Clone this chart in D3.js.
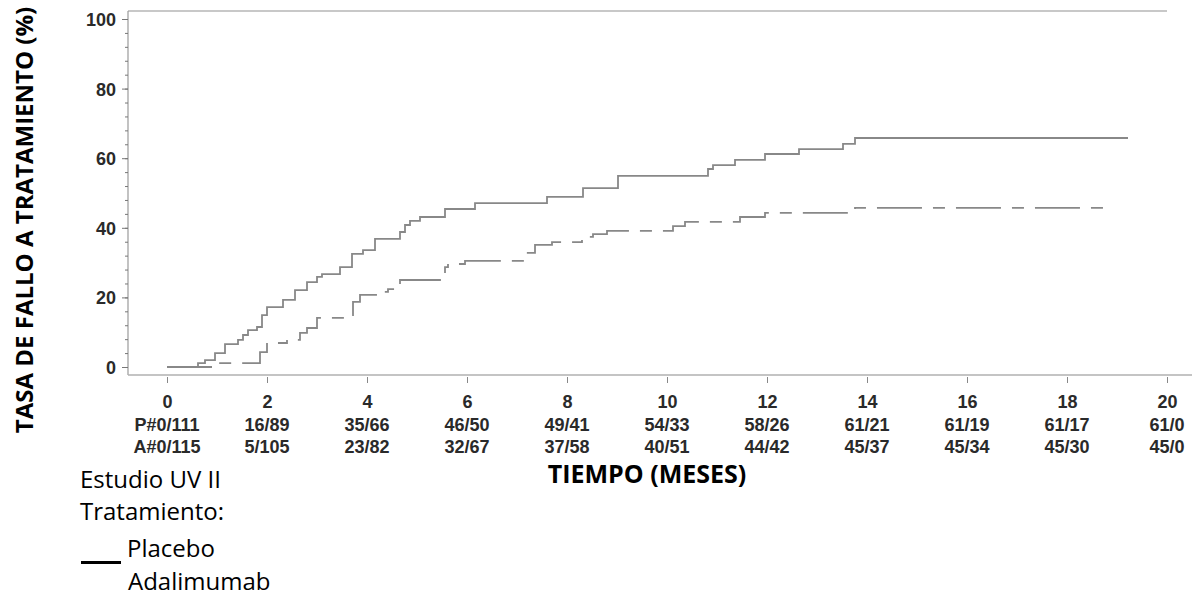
<!DOCTYPE html>
<html>
<head>
<meta charset="utf-8">
<title>tasa de fallo</title>
<script src="https://cdnjs.cloudflare.com/ajax/libs/d3/7.8.5/d3.min.js"></script>
<style>
  body { margin: 0; background: #fff; }
  .tick text { font-family: "Liberation Sans", Arial, sans-serif; font-weight: bold; font-size: 18px; fill: #2a2a2a; }
  .risk { font-family: "Liberation Sans", Arial, sans-serif; font-weight: bold; font-size: 18px; fill: #2a2a2a; }
  .lbl { font-family: "Open Sans", sans-serif; fill: #000; }
</style>
</head>
<body>
<div id="container"></div>
<script>
// months / cumulative failure (%)
const placeboT = [0, 0.62, 0.76, 0.96, 1.16, 1.42, 1.52, 1.62, 1.8, 1.9, 2.0, 2.32, 2.56, 2.8, 3.0, 3.1, 3.46, 3.7, 3.92, 4.16, 4.66, 4.76, 4.86, 5.06, 5.56, 6.16, 7.6, 8.32, 9.02, 10.82, 10.92, 11.36, 11.96, 12.64, 13.52, 13.76, 19.22];
const placeboV = [0, 1.1, 2, 4, 6.6, 7.8, 9.2, 10.6, 11.5, 14.9, 17.2, 19.3, 22.1, 24.4, 25.9, 26.7, 28.7, 32.5, 33.6, 36.8, 38.8, 40.8, 42, 43.1, 45.4, 47.1, 48.9, 51.4, 54.9, 56.9, 58, 59.5, 61.2, 62.6, 64.1, 65.8, 65.8];
const adaT = [0, 0.96, 1.86, 2.0, 2.4, 2.66, 2.8, 3.0, 3.52, 3.72, 3.86, 4.2, 4.42, 4.66, 5.46, 5.56, 5.62, 5.96, 7.16, 7.36, 7.7, 8.3, 8.52, 8.8, 10.12, 10.36, 11.46, 11.96, 13.76, 18.88];
const adaV = [0, 1.1, 4.3, 6.9, 7.8, 9.8, 11.2, 14.1, 14.9, 18.7, 20.7, 21.6, 22.4, 25, 25.9, 28.7, 29.6, 30.5, 32.8, 35.1, 35.9, 37.4, 38.2, 39.1, 40.5, 41.7, 43.1, 44.3, 45.7, 45.7];

const xTicks = [0, 2, 4, 6, 8, 10, 12, 14, 16, 18, 20];
const yTicks = [0, 20, 40, 60, 80, 100];
const placeboRisk = ["P#0/111", "16/89", "35/66", "46/50", "49/41", "54/33", "58/26", "61/21", "61/19", "61/17", "61/0"];
const adaRisk = ["A#0/115", "5/105", "23/82", "32/67", "37/58", "40/51", "44/42", "45/37", "45/34", "45/30", "45/0"];

const w = 1195, h = 598;
const svg = d3.select('#container').append('svg')
    .attr('width', w).attr('height', h);

const x = d3.scaleLinear().domain([0, 20]).range([167, 1167]);
const y = d3.scaleLinear().domain([0, 100]).range([367, 19]);

const frameLeft = 128, frameTop = 11, frameBottom = 375;

// frame
svg.append('line')
    .attr('x1', frameLeft).attr('x2', x(20)).attr('y1', frameTop).attr('y2', frameTop)
    .style('stroke', '#c8c8c8').style('stroke-width', 2);
svg.append('line')
    .attr('x1', frameLeft).attr('x2', frameLeft).attr('y1', frameTop).attr('y2', frameBottom)
    .style('stroke', '#9a9a9a').style('stroke-width', 1.2);
svg.append('line')
    .attr('x1', frameLeft).attr('x2', 1192).attr('y1', frameBottom).attr('y2', frameBottom)
    .style('stroke', '#b0b0b0').style('stroke-width', 1.5);

// y axis
const yMinor = svg.append('g')
    .attr('transform', `translate(${frameLeft},0)`)
    .call(d3.axisLeft(y).tickValues(d3.range(0, 101, 4)).tickSize(3).tickFormat(''));
yMinor.select('.domain').remove();
yMinor.selectAll('line').style('stroke', '#777');

const yAxis = svg.append('g')
    .attr('transform', `translate(${frameLeft},0)`)
    .call(d3.axisLeft(y).tickValues(yTicks).tickSize(6).tickPadding(6));
yAxis.select('.domain').remove();
yAxis.selectAll('line').style('stroke', '#777');
yAxis.selectAll('text').attr('dy', '0.36em');

// x axis
const xAxis = svg.append('g')
    .attr('transform', `translate(0,${frameBottom + 2})`)
    .call(d3.axisBottom(x).tickValues(xTicks).tickSize(6).tickPadding(12));
xAxis.select('.domain').remove();
xAxis.selectAll('line').style('stroke', '#888');

// numbers at risk
svg.append('g').selectAll('text').data(placeboRisk).join('text')
    .attr('class', 'risk')
    .attr('x', (d, i) => x(xTicks[i])).attr('y', 431)
    .attr('text-anchor', 'middle')
    .text(d => d);
svg.append('g').selectAll('text').data(adaRisk).join('text')
    .attr('class', 'risk')
    .attr('x', (d, i) => x(xTicks[i])).attr('y', 453)
    .attr('text-anchor', 'middle')
    .text(d => d);

// curves
const line = d3.line()
    .x(d => x(d[0])).y(d => y(d[1]))
    .curve(d3.curveStepAfter);

svg.append('path')
    .datum(d3.zip(placeboT, placeboV))
    .attr('d', line)
    .style('fill', 'none').style('stroke', '#888').style('stroke-width', 1.8);

svg.append('path')
    .datum(d3.zip(adaT, adaV))
    .attr('d', line)
    .style('fill', 'none').style('stroke', '#888').style('stroke-width', 1.8)
    .style('stroke-dasharray', '45,11,12,11');

// titles
svg.append('text')
    .attr('class', 'lbl')
    .attr('transform', 'translate(33,220) rotate(-90)')
    .attr('text-anchor', 'middle')
    .style('font-weight', 'bold').style('font-size', '24px')
    .text('TASA DE FALLO A TRATAMIENTO (%)');

svg.append('text')
    .attr('class', 'lbl')
    .attr('x', 647).attr('y', 483)
    .attr('text-anchor', 'middle')
    .style('font-weight', 'bold').style('font-size', '25px')
    .text('TIEMPO (MESES)');

// legend
const legend = [
    {t: 'Estudio UV II', x: 80, y: 488},
    {t: 'Tratamiento:', x: 80, y: 520},
    {t: 'Placebo', x: 127, y: 557},
    {t: 'Adalimumab', x: 128, y: 590},
];
svg.append('g').selectAll('text').data(legend).join('text')
    .attr('class', 'lbl')
    .attr('x', d => d.x).attr('y', d => d.y)
    .style('font-size', '24px')
    .text(d => d.t);

svg.append('line')
    .attr('x1', 81).attr('x2', 121).attr('y1', 562.5).attr('y2', 562.5)
    .style('stroke', '#000').style('stroke-width', 3);
</script>
</body>
</html>
